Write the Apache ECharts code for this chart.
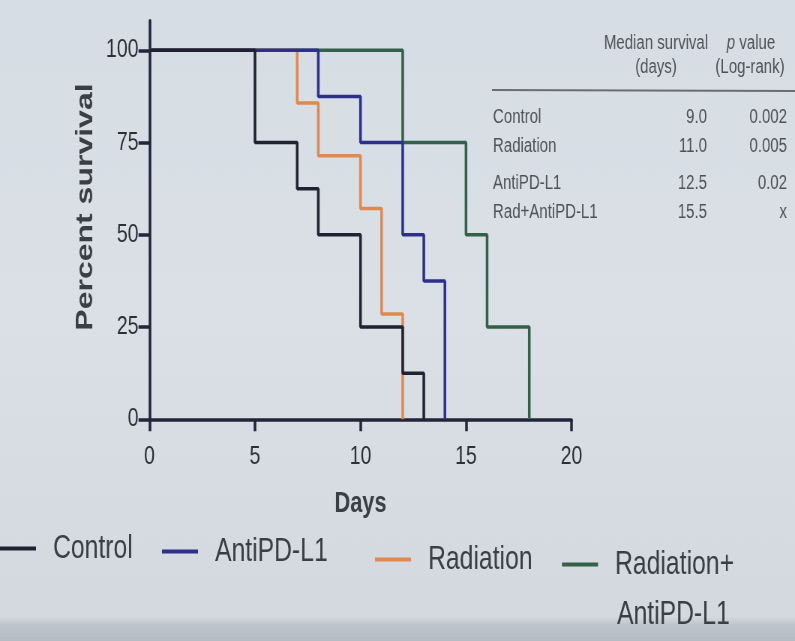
<!DOCTYPE html>
<html>
<head>
<meta charset="utf-8">
<script src="https://cdn.jsdelivr.net/npm/echarts@6/dist/echarts.min.js"></script>
<style>
  html, body { margin: 0; padding: 0; background: #d8dee4; overflow: hidden; width: 795px; height: 641px; }
  /* the photographed slide text is condensed: draw wide and squeeze horizontally */
  #chart { width: 1060px; height: 641px; transform: scaleX(0.75); transform-origin: 0 0; }
</style>
</head>
<body>
<div id="chart"></div>
<script>
// ---- data ----
const xTicks = [0, 5, 10, 15, 20];
const yTicks = [0, 25, 50, 75, 100];
const seriesNames = ['Control', 'AntiPD-L1', 'Radiation', 'Radiation+AntiPD-L1'];

const controlDays = [0, 5, 7, 8, 10, 12, 13];
const controlPct  = [100, 75, 62.5, 50, 25, 12.5, 0];
const antiDays    = [0, 8, 10, 12, 13, 14];
const antiPct     = [100, 87.5, 75, 50, 37.5, 0];
const radDays     = [0, 7, 8, 10, 11, 12];
const radPct      = [100, 85.71, 71.43, 57.14, 28.57, 0];
const comboDays   = [0, 12, 15, 16, 18];
const comboPct    = [100, 75, 50, 25, 0];

const tableGroups   = ['Control', 'Radiation', 'AntiPD-L1', 'Rad+AntiPD-L1'];
const tableMedians  = ['9.0', '11.0', '12.5', '15.5'];
const tablePValues  = ['0.002', '0.005', '0.02', 'x'];

// ---- styles ----
const S = 0.75;                 // horizontal squeeze applied by CSS
const px = v => v / S;          // screen x pixels -> option x units
const colors = ['#1f2230', '#2d2f8a', '#e08850', '#33604a'];
const sans = '"Liberation Sans", Arial, Helvetica, sans-serif';
const axisColor = '#22263a';

function zip(xs, ys) { return xs.map((x, i) => [x, ys[i]]); }
const curves = [zip(controlDays, controlPct), zip(antiDays, antiPct), zip(radDays, radPct), zip(comboDays, comboPct)];

const drawOrder = [3, 2, 1, 0];
const series = drawOrder.map(i => ({
  name: seriesNames[i],
  type: 'line',
  step: 'end',
  data: curves[i],
  color: colors[i],
  showSymbol: false,
  symbol: 'none',
  lineStyle: { width: 3.5, color: colors[i] },
  z: 3 + (3 - i)
}));

const legendLeft = [0, 162, 375, 562];
const legendTop  = [532, 535, 543, 548];
const legends = seriesNames.map((n, i) => ({
  data: [n],
  left: px(legendLeft[i]),
  top: legendTop[i],
  orient: 'horizontal',
  icon: 'rect',
  itemWidth: px(36),
  itemHeight: 4,
  selectedMode: false,
  padding: 0,
  formatter: name => name === 'Radiation+AntiPD-L1' ? 'Radiation+' : name,
  textStyle: { fontFamily: sans, fontSize: 33, color: '#3b3e44', padding: [0, 0, 0, px(17) - 5] }
}));

const tableFont = '20px ' + sans;
const tableColor = '#4f5359';
const rowY = [117, 146, 183, 212];
const graphics = [
  { type: 'text', style: { x: px(656), y: 43, text: 'Median survival', font: tableFont, fill: tableColor, textAlign: 'center', textVerticalAlign: 'middle' } },
  { type: 'text', style: { x: px(751), y: 43, text: '{i|p} value', font: tableFont, fill: tableColor, textAlign: 'center', textVerticalAlign: 'middle',
      rich: { i: { fontStyle: 'italic', fontFamily: sans, fontSize: 20, fill: tableColor } } } },
  { type: 'text', style: { x: px(656), y: 67, text: '(days)', font: tableFont, fill: tableColor, textAlign: 'center', textVerticalAlign: 'middle' } },
  { type: 'text', style: { x: px(750), y: 67, text: '(Log-rank)', font: tableFont, fill: tableColor, textAlign: 'center', textVerticalAlign: 'middle' } },
  { type: 'line', shape: { x1: px(492), y1: 90, x2: px(795), y2: 91 }, style: { stroke: '#6a6e74', lineWidth: 2 } },
  { type: 'text', style: { x: px(617), y: 615, text: 'AntiPD-L1', font: '33px ' + sans, fill: '#3b3e44', textAlign: 'left', textVerticalAlign: 'middle' } }
];
tableGroups.forEach((g, i) => {
  graphics.push({ type: 'text', style: { x: px(493), y: rowY[i], text: g, font: tableFont, fill: tableColor, textAlign: 'left', textVerticalAlign: 'middle' } });
  graphics.push({ type: 'text', style: { x: px(707), y: rowY[i], text: tableMedians[i], font: tableFont, fill: tableColor, textAlign: 'right', textVerticalAlign: 'middle' } });
  graphics.push({ type: 'text', style: { x: px(787), y: rowY[i], text: tablePValues[i], font: tableFont, fill: tableColor, textAlign: 'right', textVerticalAlign: 'middle' } });
});

const chart = echarts.init(document.getElementById('chart'), null, { renderer: 'canvas' });
chart.setOption({
  animation: false,
  backgroundColor: {
    type: 'linear', x: 0, y: 0, x2: 0, y2: 1,
    colorStops: [
      { offset: 0, color: '#d6dde4' },
      { offset: 0.5, color: '#dae0e6' },
      { offset: 0.962, color: '#d3d9df' },
      { offset: 0.975, color: '#bdc4cb' },
      { offset: 1, color: '#b5bcc3' }
    ]
  },
  grid: { left: px(149.5), right: px(223.5), top: 20.8, bottom: 221.7, containLabel: false },
  xAxis: {
    type: 'value',
    min: 0, max: 20, interval: 5,
    name: 'Days',
    nameLocation: 'middle',
    nameGap: 70,
    nameTextStyle: { fontFamily: sans, fontWeight: 'bold', fontSize: 29, color: '#3b3e45' },
    axisLine: { show: true, onZero: false, lineStyle: { color: axisColor, width: 3.5 } },
    axisTick: { show: true, length: 12, lineStyle: { color: axisColor, width: 3.5 }, customValues: xTicks },
    axisLabel: { margin: 25, fontFamily: sans, fontSize: 26, color: '#2d3036', customValues: xTicks },
    splitLine: { show: false }
  },
  yAxis: {
    type: 'value',
    min: 0, max: 108,
    name: 'Percent survival',
    nameLocation: 'middle',
    nameGap: 58,
    nameTextStyle: { fontFamily: sans, fontWeight: 'bold', fontSize: 32, color: '#3b3e45', padding: [0, 0, 0, 26] },
    axisLine: { show: true, onZero: false, lineStyle: { color: axisColor, width: 3.5 } },
    axisTick: { show: true, length: px(11), lineStyle: { color: axisColor, width: 3.5 }, customValues: yTicks },
    axisLabel: { margin: px(11), fontFamily: sans, fontSize: 26, color: '#2d3036', customValues: yTicks },
    splitLine: { show: false }
  },
  legend: legends,
  graphic: graphics,
  series: series
});
</script>
</body>
</html>
